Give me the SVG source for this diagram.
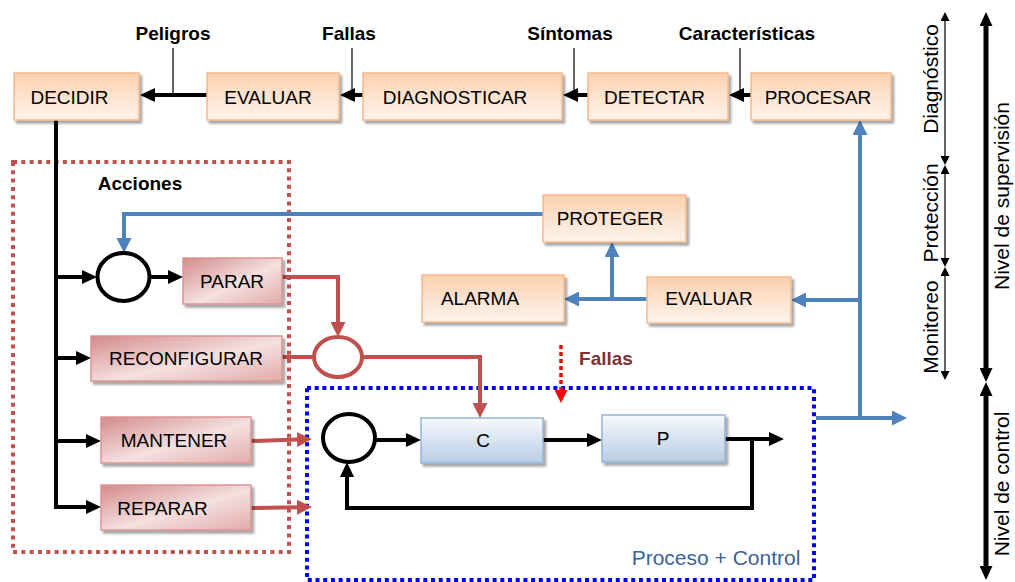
<svg xmlns="http://www.w3.org/2000/svg" width="1015" height="582" viewBox="0 0 1015 582">
<defs>
  <linearGradient id="gOr" x1="0" y1="0" x2="0" y2="1">
    <stop offset="0" stop-color="#FBD0AE"/>
    <stop offset="0.5" stop-color="#FDE3CF"/>
    <stop offset="1" stop-color="#FEF3EA"/>
  </linearGradient>
  <linearGradient id="gRd" x1="0" y1="0" x2="1" y2="1">
    <stop offset="0" stop-color="#D48A8A"/>
    <stop offset="0.55" stop-color="#F5E0E0"/>
    <stop offset="1" stop-color="#E2AAAA"/>
  </linearGradient>
  <linearGradient id="gBl" x1="0" y1="0" x2="0" y2="1">
    <stop offset="0" stop-color="#F7F9FC"/>
    <stop offset="1" stop-color="#B8CCE4"/>
  </linearGradient>
  <filter id="sh" x="-10%" y="-20%" width="125%" height="150%">
    <feDropShadow dx="2.5" dy="3" stdDeviation="1" flood-color="#000" flood-opacity="0.35"/>
  </filter>
  <marker id="aK" markerUnits="userSpaceOnUse" markerWidth="15" markerHeight="14" refX="1" refY="7" orient="auto">
    <path d="M0,0 L15,7 L0,14 z" fill="#000"/>
  </marker>
  <marker id="aB" markerUnits="userSpaceOnUse" markerWidth="15" markerHeight="15" refX="1" refY="7.5" orient="auto">
    <path d="M0,0 L15,7.5 L0,15 z" fill="#4F81BD"/>
  </marker>
  <marker id="aR" markerUnits="userSpaceOnUse" markerWidth="15" markerHeight="15" refX="1" refY="7.5" orient="auto">
    <path d="M0,0 L15,7.5 L0,15 z" fill="#C0504D"/>
  </marker>
  <marker id="aF" markerUnits="userSpaceOnUse" markerWidth="13" markerHeight="13" refX="1" refY="6.5" orient="auto">
    <path d="M0,0 L13,6.5 L0,13 z" fill="#FF0000"/>
  </marker>
  <marker id="aT" markerUnits="userSpaceOnUse" markerWidth="9" markerHeight="9" refX="1" refY="4.5" orient="auto-start-reverse">
    <path d="M0,0 L9,4.5 L0,9 z" fill="#000"/>
  </marker>
  <marker id="aH" markerUnits="userSpaceOnUse" markerWidth="14" markerHeight="13" refX="1" refY="6.5" orient="auto-start-reverse">
    <path d="M0,0 L14,6.5 L0,13 z" fill="#000"/>
  </marker>
</defs>
<style>
  text { font-family: "Liberation Sans", Arial, sans-serif; fill: #000; }
  .lbl { font-size: 19px; text-anchor: middle; }
  .hd { font-size: 19px; font-weight: bold; text-anchor: middle; }
  .vt { font-size: 21px; text-anchor: middle; dominant-baseline: central; }
  .or { fill: url(#gOr); stroke: #F8B88A; stroke-width: 1.5; filter: url(#sh); }
  .rd { fill: url(#gRd); stroke: #D99594; stroke-width: 1.5; filter: url(#sh); }
  .bl { fill: url(#gBl); stroke: #95B3D7; stroke-width: 1.5; filter: url(#sh); }
  .k { fill: none; stroke: #000; stroke-width: 4; }
  .b { fill: none; stroke: #4F81BD; stroke-width: 4; }
  .r { fill: none; stroke: #C0504D; stroke-width: 4; }
  .thin { fill: none; stroke: #000; stroke-width: 1.2; }
</style>
<rect width="1015" height="582" fill="#fff"/>

<!-- dotted regions -->
<g id="acciones">
  <rect x="13" y="162" width="276" height="390" fill="none" stroke="#C0504D" stroke-width="4" stroke-dasharray="4 4.3"/>
  <text class="hd" x="140" y="190">Acciones</text>
</g>
<g id="proceso-control">
  <rect x="307" y="388" width="507" height="192" fill="none" stroke="#0000FF" stroke-width="4" stroke-dasharray="4 3.7"/>
  <text x="716" y="565" font-size="21" text-anchor="middle" style="fill:#3A6296">Proceso + Control</text>
</g>

<!-- connectors -->
<g id="connectors">
  <path class="k" d="M207,95 L154,95" marker-end="url(#aK)"/>
  <path class="k" d="M363,95 L354,95" marker-end="url(#aK)"/>
  <path class="k" d="M588,95 L577,95" marker-end="url(#aK)"/>
  <path class="k" d="M751,95 L743,95" marker-end="url(#aK)"/>
  <path class="thin" d="M173,48 L173,93 M352,48 L352,93 M574,48 L574,93 M740,48 L740,93"/>

  <path class="k" d="M56,120 L56,507 L87,507" marker-end="url(#aK)"/>
  <path class="k" d="M56,277 L83,277" marker-end="url(#aK)"/>
  <path class="k" d="M56,358 L77,358" marker-end="url(#aK)"/>
  <path class="k" d="M56,441 L87,441" marker-end="url(#aK)"/>
  <path class="k" d="M150,277 L169,277" marker-end="url(#aK)"/>

  <path class="k" d="M376,440 L407,440" marker-end="url(#aK)"/>
  <path class="k" d="M543,440 L588,440" marker-end="url(#aK)"/>
  <path class="k" d="M725,439 L770,439" marker-end="url(#aK)"/>
  <path class="k" d="M752,439 L752,508 L347,508 L347,476" marker-end="url(#aK)"/>

  <path class="b" d="M543,214 L124,214 L124,239" marker-end="url(#aB)"/>
  <path class="b" d="M647,299 L578,299" marker-end="url(#aB)"/>
  <path class="b" d="M612,299 L612,256" marker-end="url(#aB)"/>
  <path class="b" d="M860,418 L860,134" marker-end="url(#aB)"/>
  <path class="b" d="M860,300 L805,300" marker-end="url(#aB)"/>
  <path class="b" d="M816,418 L893,418" marker-end="url(#aB)"/>

  <path class="r" d="M282,277 L338,277 L338,323" marker-end="url(#aR)"/>
  <path class="r" d="M282,357 L314,357"/>
  <path class="r" d="M362,357 L480,357 L480,404" marker-end="url(#aR)"/>
  <path class="r" d="M251,441 L298,439.5" marker-end="url(#aR)"/>
  <path class="r" d="M251,508 L298,507.2" marker-end="url(#aR)"/>

  <path d="M561,345 L561,391" fill="none" stroke="#FF0000" stroke-width="3.5" stroke-dasharray="4 3" marker-end="url(#aF)"/>

  <path class="thin" stroke-width="1.5" d="M945,20 L945,157" marker-start="url(#aT)" marker-end="url(#aT)"/>
  <path class="thin" stroke-width="1.5" d="M945,173 L945,259" marker-start="url(#aT)" marker-end="url(#aT)"/>
  <path class="thin" stroke-width="1.5" d="M945,275 L945,372" marker-start="url(#aT)" marker-end="url(#aT)"/>
  <path d="M986,25 L986,369" fill="none" stroke="#000" stroke-width="5" marker-start="url(#aH)" marker-end="url(#aH)"/>
  <path d="M986,395 L986,567" fill="none" stroke="#000" stroke-width="5" marker-start="url(#aH)" marker-end="url(#aH)"/>
</g>

<!-- labels on connectors -->
<g id="labels">
  <text class="hd" x="173" y="39.5">Peligros</text>
  <text class="hd" x="349" y="39.5">Fallas</text>
  <text class="hd" x="570" y="39.5">Síntomas</text>
  <text class="hd" x="747" y="39.5">Características</text>
  <text class="hd" x="606" y="365" style="fill:#7F3333">Fallas</text>
  <text class="vt" transform="translate(930,79) rotate(-90)">Diagnóstico</text>
  <text class="vt" transform="translate(930,213) rotate(-90)">Protección</text>
  <text class="vt" transform="translate(930,327) rotate(-90)">Monitoreo</text>
  <text class="vt" font-size="21.5" transform="translate(1001,196) rotate(-90)">Nivel de  supervisión</text>
  <text class="vt" font-size="22" transform="translate(1001,484) rotate(-90)">Nivel de control</text>
</g>

<!-- nodes -->
<g id="decidir"><rect class="or" x="14" y="73" width="125" height="47"/><text class="lbl" x="69.5" y="104">DECIDIR</text></g>
<g id="evaluar1"><rect class="or" x="207" y="73" width="132" height="47"/><text class="lbl" x="268" y="104">EVALUAR</text></g>
<g id="diagnosticar"><rect class="or" x="363" y="73" width="199" height="47"/><text class="lbl" x="455" y="104">DIAGNOSTICAR</text></g>
<g id="detectar"><rect class="or" x="588" y="73" width="140" height="47"/><text class="lbl" x="654.5" y="104">DETECTAR</text></g>
<g id="procesar"><rect class="or" x="751" y="73" width="140" height="47"/><text class="lbl" x="818" y="104">PROCESAR</text></g>

<g id="proteger"><rect class="or" x="543" y="195" width="143" height="47"/><text class="lbl" x="610" y="225">PROTEGER</text></g>
<g id="alarma"><rect class="or" x="422" y="275" width="142" height="47"/><text class="lbl" x="480" y="305">ALARMA</text></g>
<g id="evaluar2"><rect class="or" x="647" y="277" width="144" height="46"/><text class="lbl" x="709" y="305">EVALUAR</text></g>

<g id="sum1"><ellipse cx="123.5" cy="277" rx="26" ry="24" fill="#fff" stroke="#000" stroke-width="4"/></g>
<g id="parar"><rect class="rd" x="183" y="258" width="99" height="46"/><text class="lbl" x="232" y="288">PARAR</text></g>
<g id="reconfigurar"><rect class="rd" x="91" y="336" width="191" height="45"/><text class="lbl" x="186" y="365">RECONFIGURAR</text></g>
<g id="mantener"><rect class="rd" x="101" y="417" width="150" height="46"/><text class="lbl" x="174" y="447">MANTENER</text></g>
<g id="reparar"><rect class="rd" x="101" y="485" width="150" height="45"/><text class="lbl" x="162.5" y="515">REPARAR</text></g>
<g id="sum2"><ellipse cx="338" cy="357" rx="24" ry="20" fill="#fff" stroke="#C0504D" stroke-width="4"/></g>

<g id="sum3"><ellipse cx="349" cy="438" rx="26" ry="24" fill="#fff" stroke="#000" stroke-width="4"/></g>
<g id="c"><rect class="bl" x="421" y="418" width="122" height="45"/><text class="lbl" x="483" y="447">C</text></g>
<g id="p"><rect class="bl" x="602" y="415" width="123" height="47"/><text class="lbl" x="663" y="445">P</text></g>
</svg>
